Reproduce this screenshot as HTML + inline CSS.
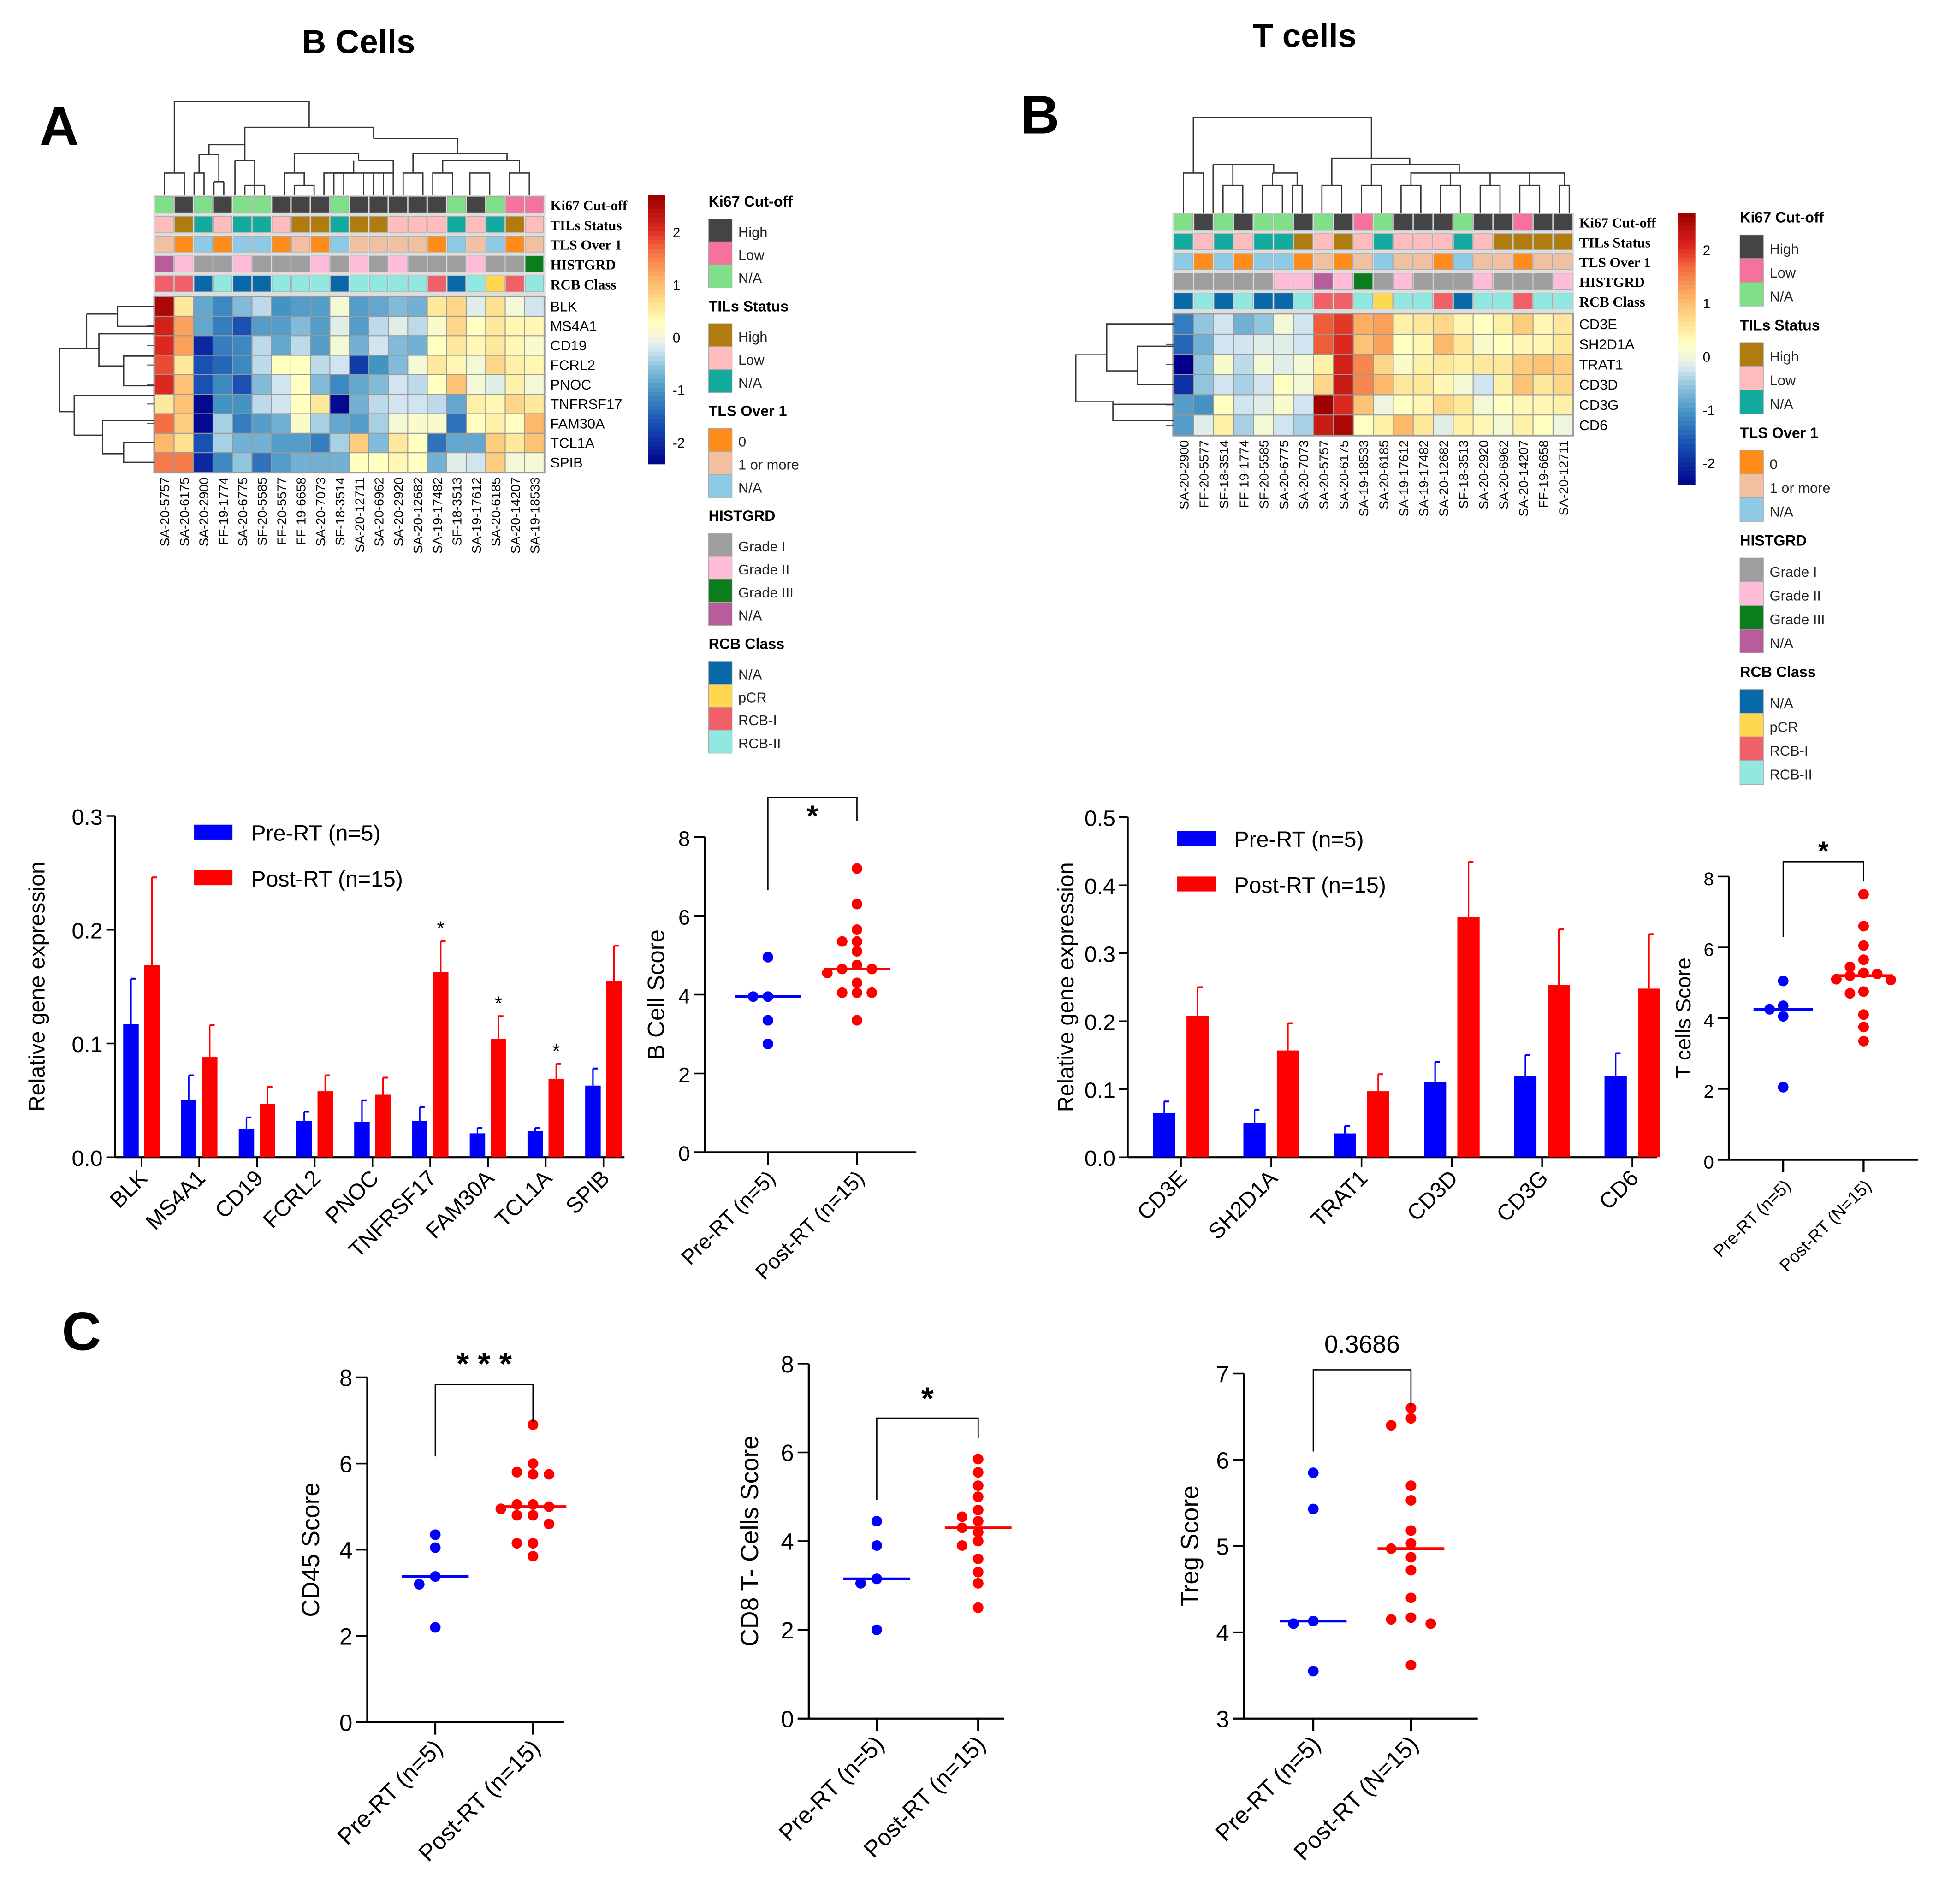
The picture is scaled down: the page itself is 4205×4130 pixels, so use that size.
<!DOCTYPE html>
<html><head><meta charset="utf-8"><style>
html,body{margin:0;padding:0;background:#fff}
svg{display:block}
text{font-family:"Liberation Sans",Arial,sans-serif}
.ser{font-family:"Liberation Serif",serif;font-weight:bold}
</style></head><body>
<svg id="fig" xmlns="http://www.w3.org/2000/svg" width="4205" height="4130" viewBox="0 0 1568 1540" preserveAspectRatio="none">
<rect width="1568" height="1540" fill="#fff"/>
<text x="290" y="43" font-size="27" font-weight="bold" text-anchor="middle">B Cells</text>
<text x="1055" y="38" font-size="27" font-weight="bold" text-anchor="middle">T cells</text>
<text x="32" y="117" font-size="44" font-weight="bold">A</text>
<text x="825" y="108" font-size="44" font-weight="bold">B</text>
<text x="50" y="1092" font-size="44" font-weight="bold">C</text>
<g id="root"></g>
</svg>
<script>
// ===== heatmap data =====
const hmASamples=["SA-20-5757","SA-20-6175","SA-20-2900","FF-19-1774","SA-20-6775","SF-20-5585","FF-20-5577","FF-19-6658","SA-20-7073","SF-18-3514","SA-20-12711","SA-20-6962","SA-20-2920","SA-20-12682","SA-19-17482","SF-18-3513","SA-19-17612","SA-20-6185","SA-20-14207","SA-19-18533"];
const hmAGenes=["BLK","MS4A1","CD19","FCRL2","PNOC","TNFRSF17","FAM30A","TCL1A","SPIB"];
const hmAValues=[
[2.6,0.6,-0.8,-1.1,-0.6,-0.3,-1.0,-0.9,-0.9,0.1,-0.9,-0.8,-0.6,-0.7,0.6,0.8,-0.1,0.7,0.1,-0.2],
[2.2,1.3,-0.8,-1.2,-1.6,-0.9,-0.9,-0.6,-0.9,-0.1,-0.9,-0.3,-0.1,-0.3,0.2,0.8,0.3,0.6,0.4,0.4],
[2.1,1.3,-2.0,-1.2,-1.1,-0.3,-0.8,-0.3,-0.9,0.1,-0.7,-0.2,-0.6,-0.7,0.3,0.6,0.4,0.6,0.4,0.2],
[1.9,0.6,-1.6,-1.4,-1.1,-0.3,0.3,0.3,-0.3,-0.2,-1.8,-1.0,-0.6,0.1,0.6,0.4,0.1,0.8,0.5,0.4],
[2.1,1.0,-1.6,-1.1,-1.6,-0.6,-0.2,0.3,-0.6,-1.1,-0.8,-0.6,-0.2,-0.3,0.3,1.0,0.1,-0.1,0.5,0.1],
[0.6,1.0,-2.3,-1.0,-1.0,-0.3,-0.2,0.3,0.6,-2.3,-0.7,-0.3,-0.2,-0.2,-0.3,-0.8,0.5,0.4,0.8,0.6],
[1.7,0.9,-2.3,-0.4,-1.2,-0.9,-0.7,0.2,-0.4,-0.8,-0.9,-0.4,0.1,0.2,0.2,-1.3,0.3,0.5,0.3,1.1],
[1.1,0.7,-1.6,-0.4,-0.7,-0.7,-0.9,-0.9,-1.2,-0.4,0.9,-0.6,0.6,0.3,-1.3,-0.8,-0.8,0.9,0.6,1.0],
[1.6,1.6,-2.0,-1.1,-0.5,-1.3,-0.9,-0.7,-0.7,-0.7,0.3,0.3,0.4,0.3,-0.7,-0.1,-0.2,0.9,0.1,0.1]];
const hmAKi67=["N","H","N","H","N","N","H","H","H","N","H","H","H","H","H","N","H","N","L","L"];
const hmATils=["L","H","N","L","N","N","L","H","H","N","H","H","L","L","L","N","L","N","H","L"];
const hmATls=["1","0","N","0","N","N","0","1","0","N","1","1","1","1","0","N","1","N","0","1"];
const hmAHist=["N","II","I","I","II","I","I","I","II","I","II","I","II","I","I","I","II","I","I","III"];
const hmARcb=["I","I","N","II","N","N","II","II","II","N","II","II","II","II","I","N","II","p","I","II"];

const hmBSamples=["SA-20-2900","FF-20-5577","SF-18-3514","FF-19-1774","SF-20-5585","SA-20-6775","SA-20-7073","SA-20-5757","SA-20-6175","SA-19-18533","SA-20-6185","SA-19-17612","SA-19-17482","SA-20-12682","SF-18-3513","SA-20-2920","SA-20-6962","SA-20-14207","FF-19-6658","SA-20-12711"];
const hmBGenes=["CD3E","SH2D1A","TRAT1","CD3D","CD3G","CD6"];
const hmBValues=[
[-1.2,-0.5,-0.2,-0.7,-0.5,0.1,-0.2,1.8,2.0,1.2,1.3,0.5,0.6,0.8,0.4,0.3,0.5,0.9,0.4,0.6],
[-1.4,-0.7,-0.2,-0.2,-0.1,-0.1,-0.2,1.8,2.1,1.0,1.3,0.3,0.4,1.1,0.6,0.2,0.3,0.4,0.4,0.6],
[-2.4,-0.5,0.2,-0.3,0.1,-0.1,0.1,0.5,2.2,1.5,0.8,0.2,0.5,0.6,0.5,0.6,0.6,0.9,1.0,0.9],
[-1.9,-0.5,-0.2,-0.4,-0.2,0.3,0.1,0.8,2.3,1.5,1.1,0.6,0.6,0.4,0.1,-0.2,0.5,1.0,0.6,0.8],
[-0.9,-1.0,0.3,-0.2,-0.1,0.2,-0.2,2.7,2.1,1.0,0.0,0.3,0.4,0.8,0.6,0.1,0.3,0.4,0.4,0.5],
[-0.9,-0.1,0.5,-0.4,0.1,-0.2,-0.4,2.3,2.6,0.3,0.5,1.1,0.6,-0.1,0.5,0.4,0.1,0.5,0.3,0.0]];
const hmBKi67=["N","H","N","H","N","N","H","N","H","L","N","H","H","H","N","H","H","L","H","H"];
const hmBTils=["N","L","N","L","N","N","H","L","H","L","N","L","L","L","N","L","H","H","H","H"];
const hmBTls=["N","0","N","0","N","N","0","1","0","1","N","1","1","0","N","1","1","0","1","1"];
const hmBHist=["I","I","I","I","I","II","II","N","II","III","I","II","I","I","I","II","I","I","I","II"];
const hmBRcb=["N","II","N","II","N","N","II","I","I","II","p","II","II","I","N","II","II","I","II","II"];

// ===== bar chart data =====
const barAGenes=["BLK","MS4A1","CD19","FCRL2","PNOC","TNFRSF17","FAM30A","TCL1A","SPIB"];
const barAPre=[0.117,0.050,0.025,0.032,0.031,0.032,0.021,0.023,0.063];
const barAPreErr=[0.040,0.022,0.010,0.008,0.019,0.012,0.005,0.003,0.015];
const barAPost=[0.169,0.088,0.047,0.058,0.055,0.163,0.104,0.069,0.155];
const barAPostErr=[0.077,0.028,0.015,0.014,0.015,0.027,0.020,0.013,0.031];
const barAStars=[0,0,0,0,0,1,1,1,0];
const barBGenes=["CD3E","SH2D1A","TRAT1","CD3D","CD3G","CD6"];
const barBPre=[0.065,0.050,0.035,0.110,0.120,0.120];
const barBPreErr=[0.017,0.020,0.011,0.030,0.030,0.033];
const barBPost=[0.208,0.157,0.097,0.353,0.253,0.248];
const barBPostErr=[0.042,0.040,0.025,0.081,0.082,0.080];

// ===== dot plot data =====
const bScorePre=[4.95,3.95,3.95,3.35,2.75];
const bScorePost=[7.2,6.3,5.65,5.35,5.35,5.1,4.75,4.65,4.65,4.55,4.3,4.05,4.05,4.05,3.35];
const tScorePre=[5.05,4.35,4.25,4.05,2.05];
const tScorePost=[7.5,6.6,6.05,5.65,5.45,5.28,5.25,5.2,5.1,5.08,4.75,4.7,4.1,3.75,3.35];
const cd45Pre=[4.35,4.05,3.38,3.2,2.2];
const cd45Post=[6.9,6.0,5.8,5.75,5.75,5.05,5.05,5.0,4.95,4.8,4.8,4.6,4.15,4.15,3.85];
const cd8Pre=[4.45,3.9,3.15,3.05,2.0];
const cd8Post=[5.85,5.55,5.25,5.0,4.7,4.55,4.45,4.3,4.2,4.0,3.9,3.6,3.3,3.05,2.5];
const tregPre=[5.85,5.43,4.13,4.1,3.55];
const tregPost=[6.6,6.48,6.4,5.7,5.53,5.18,5.03,4.97,4.87,4.72,4.4,4.17,4.15,4.1,3.62];
const scoreTicks=["0","2","4","6","8"];
const tregTicks=["3","4","5","6","7"];

const NS="http://www.w3.org/2000/svg";
const root=document.getElementById('root');
function el(tag,attrs,parent,txt){const e=document.createElementNS(NS,tag);for(const k in attrs)e.setAttribute(k,attrs[k]);if(txt!==undefined)e.textContent=txt;(parent||root).appendChild(e);return e;}

const cKi={H:"#444444",L:"#f5729c",N:"#80e08a"};
const cTil={H:"#b07c10",L:"#ffbcbc",N:"#12ab9e"};
const cTls={"0":"#ff8c1a","1":"#f0c0a0",N:"#8ecae6"};
const cHist={I:"#9e9e9e",II:"#ffbcd8",III:"#0b7d1c",N:"#b85c9c"};
const cRcb={N:"#0868a8",p:"#ffd850",I:"#f06068",II:"#90e8e0"};
const stops=[[-2.4,[0,0,139]],[-1.6,[24,80,180]],[-1,[67,147,195]],[-0.5,[146,197,222]],[-0.2,[209,229,240]],[0,[238,246,224]],[0.3,[255,255,191]],[0.7,[254,224,144]],[1.2,[253,174,97]],[1.7,[244,109,67]],[2.1,[220,40,30]],[2.7,[160,0,0]]];
function hcol(v){if(v<=stops[0][0])return `rgb(${stops[0][1]})`;for(let i=1;i<stops.length;i++){if(v<=stops[i][0]){const a=stops[i-1],b=stops[i],t=(v-a[0])/(b[0]-a[0]);return `rgb(${a[1].map((c,j)=>Math.round(c+(b[1][j]-c)*t)).join(',')})`;}}return `rgb(${stops[stops.length-1][1]})`;}

function heatmap(cfg){
  const g=el('g',{});
  
  
  const n=cfg.samples.length, cw=(cfg.x1-cfg.x0)/n;
  const annos=[[cfg.ki,cKi,"Ki67 Cut-off"],[cfg.til,cTil,"TILs Status"],[cfg.tls,cTls,"TLS Over 1"],[cfg.hist,cHist,"HISTGRD"],[cfg.rcb,cRcb,"RCB Class"]];
  el('rect',{x:cfg.x0-1,y:cfg.annY-1,width:cfg.x1-cfg.x0+2,height:5*cfg.annStep+1,fill:"#ddd"},g);
  annos.forEach((a,r)=>{
    const y=cfg.annY+r*cfg.annStep;
    a[0].forEach((v,i)=>{const c=el('rect',{x:cfg.x0+i*cw+0.5,y:y,width:cw-1,height:cfg.annStep-3,fill:a[1][v],stroke:"#aaa","stroke-width":0.4},g);
      
      });
    const t=el('text',{x:cfg.x1+5,y:y+cfg.annStep-5,"font-size":11.5,class:"ser"},g,a[2]);
    
    
  });
  const rh=(cfg.y1-cfg.y0)/cfg.genes.length;
  el('rect',{x:cfg.x0-1,y:cfg.y0-1,width:cfg.x1-cfg.x0+2,height:cfg.y1-cfg.y0+2,fill:"#999"},g);
  cfg.values.forEach((row,r)=>{
    row.forEach((v,i)=>{const c=el('rect',{x:cfg.x0+i*cw+0.4,y:cfg.y0+r*rh+0.4,width:cw-0.8,height:rh-0.8,fill:hcol(v)},g);
      
      });
    const t=el('text',{x:cfg.x1+5,y:cfg.y0+r*rh+rh/2+4,"font-size":11.5},g,cfg.genes[r]);
    
    
    el('line',{x1:cfg.x0-6,x2:cfg.x0,y1:cfg.y0+r*rh+rh/2,y2:cfg.y0+r*rh+rh/2,stroke:"#555","stroke-width":0.8},g);
  });
  cfg.samples.forEach((s,i)=>{
    const x=cfg.x0+i*cw+cw/2+4;
    const t=el('text',{x:x,y:cfg.y1+4,"font-size":10.5,"text-anchor":"end",transform:`rotate(-90 ${x} ${cfg.y1+4})`},g,s);
    
    
  });
  const cb=cfg.cb;
  for(let k=0;k<60;k++){const v=2.7-k*(5.1/60);el('rect',{x:cb.x,y:cb.y0+k*(cb.y1-cb.y0)/60,width:14,height:(cb.y1-cb.y0)/60+0.6,fill:hcol(v)},g);}
  [2,1,0,-1,-2].forEach(v=>{const y=cb.y0+(2.7-v)/5.1*(cb.y1-cb.y0);const t=el('text',{x:cb.x+20,y:y+4,"font-size":11},g,String(v));
    
    });
  const groups=[["Ki67 Cut-off",[["High",cKi.H],["Low",cKi.L],["N/A",cKi.N]]],["TILs Status",[["High",cTil.H],["Low",cTil.L],["N/A",cTil.N]]],["TLS Over 1",[["0",cTls["0"]],["1 or more",cTls["1"]],["N/A",cTls.N]]],["HISTGRD",[["Grade I",cHist.I],["Grade II",cHist.II],["Grade III",cHist.III],["N/A",cHist.N]]],["RCB Class",[["N/A",cRcb.N],["pCR",cRcb.p],["RCB-I",cRcb.I],["RCB-II",cRcb.II]]]];
  let y=cfg.legY;
  groups.forEach(gr=>{
    const t=el('text',{x:cfg.legX,y:y,"font-size":12,"font-weight":"bold"},g,gr[0]);
    
    
    y+=10;
    gr[1].forEach(it=>{el('rect',{x:cfg.legX,y:y,width:19,height:cfg.legStep,fill:it[1],stroke:"#aaa","stroke-width":0.5},g);
      const tt=el('text',{x:cfg.legX+24,y:y+cfg.legStep-4,"font-size":11.5,fill:"#222"},g,it[0]);
      
      
      y+=cfg.legStep;});
    y+=cfg.legGap;
  });
  cfg.dend.forEach(d=>el('path',{d:d,fill:"none",stroke:"#333","stroke-width":1},g));
}
heatmap({name:"heatmap-b-cells",samples:hmASamples,genes:hmAGenes,values:hmAValues,ki:hmAKi67,til:hmATils,tls:hmATls,hist:hmAHist,rcb:hmARcb,
  x0:125,x1:440,annY:159,annStep:16,y0:240,y1:382,cb:{x:524,y0:158,y1:375},legX:573,legY:167,legStep:18.6,legGap:19,
  dend:[
   "M133 158 V140 H149 V158","M141 140 V82 H250 V103","M157 158 V140 H165 V158","M161 140 V125 H177 V147","M173 147 V158 M181 147 V158 M173 147 H181",
   "M169 125 V117 H198 V130","M190 130 H206 V150","M190 130 V158","M198 150 H214 V158 M198 150 V158","M206 150 V158",
   "M198 117 V103 H302 V112","M230 158 V140 H246 V150 M238 150 H254 V158 M238 150 V158",
   "M238 140 V124 H290 V130","M262 158 V140 H286 V130 M290 130 V130 H318 V140","M270 140 V158 M278 140 V158 M294 140 V158 M302 140 V158 M310 140 V158 M318 140 V158",
   "M270 140 H318","M302 112 V112 H370 V124","M326 158 V140 H342 V158 M334 140 V124 H410 V130 M350 158 V140 H366 V158 M358 140 V130 H420 V140 M380 158 V140 H396 V158 M412 158 V140 H428 V158",
   "M48 333 V282 H70 V254 M70 254 H95 V248 H125 M95 254 V264 H125 M70 282 H80 V270 H125 M80 282 V296 H100 V288 H125 M100 296 V312 H125 M48 333 H60 V352 M60 352 H83 V340 H125 M83 352 V367 H100 V358 H125 M100 367 V374 H125 M60 333 V320 H125"
  ]});
heatmap({name:"heatmap-t-cells",samples:hmBSamples,genes:hmBGenes,values:hmBValues,ki:hmBKi67,til:hmBTils,tls:hmBTls,hist:hmBHist,rcb:hmBRcb,
  x0:949,x1:1272,annY:173,annStep:16,y0:254,y1:352,cb:{x:1357,y0:172,y1:392},legX:1407,legY:180,legStep:19.2,legGap:19.5,
  dend:[
   "M957 172 V140 H973 V172","M965 140 V95 H1109 V128","M989 172 V150 H1005 V172","M997 150 V133 H1030 V140","M1021 172 V150 H1037 V172 M1029 150 V140 M1045 172 V150 H1053 V172 M1049 150 V140 H1029",
   "M981 172 V133 M981 133 H997","M1069 172 V150 H1085 V172 M1077 150 V128 H1140 V133","M1101 172 V150 H1117 V172 M1109 150 V133 H1180 V140",
   "M1133 172 V150 H1149 V172 M1141 150 V140 H1220 M1165 172 V150 H1181 V172 M1173 150 V140 M1197 172 V150 H1213 V172 M1205 150 V140 M1229 172 V150 H1245 V172 M1237 150 V140 M1261 172 V150 H1269 V172 M1265 150 V140 H1220",
   "M870 325 V287 H895 V262 H949 M895 287 V300 H920 V280 H949 M920 300 V311 H949 M870 325 H900 V340 H949 M900 325 V327 H949"
  ]});

function barChart(cfg){
  const g=el('g',{});
  
  
  const y=v=>cfg.yb-(v/cfg.ymax)*(cfg.yb-cfg.yt);
  const xc=i=>cfg.x0+cfg.first+i*cfg.step;
  el('line',{x1:cfg.x0,x2:cfg.x0,y1:cfg.yt,y2:cfg.yb,stroke:"#000","stroke-width":1.5},g);
  el('line',{x1:cfg.x0,x2:cfg.xend,y1:cfg.yb,y2:cfg.yb,stroke:"#000","stroke-width":1.5},g);
  cfg.ticks.forEach(t=>{const yy=y(t);el('line',{x1:cfg.x0-7,x2:cfg.x0,y1:yy,y2:yy,stroke:"#000","stroke-width":1.3},g);
    const tx=el('text',{x:cfg.x0-10,y:yy+7,"font-size":18,"text-anchor":"end"},g,t.toFixed(1));
    
    });
  cfg.genes.forEach((gn,i)=>{
    const c=xc(i);
    el('line',{x1:c,x2:c,y1:cfg.yb,y2:cfg.yb+8,stroke:"#000","stroke-width":1.3},g);
    [[cfg.pre,cfg.preErr,"#0000ff",-cfg.off],[cfg.post,cfg.postErr,"#ff0000",cfg.off]].forEach(s=>{
      const bx=c+s[3]-cfg.bw/2,top=y(s[0][i]),et=y(s[0][i]+s[1][i]);
      el('line',{x1:c+s[3],x2:c+s[3],y1:top,y2:et,stroke:s[2],"stroke-width":1.2},g);
      el('line',{x1:c+s[3],x2:c+s[3]+4,y1:et,y2:et,stroke:s[2],"stroke-width":1.5},g);
      const b=el('rect',{x:bx,y:top,width:cfg.bw,height:cfg.yb-top,fill:s[2]},g);
      
      
    });
    if(cfg.stars&&cfg.stars[i]){const st=el('text',{x:c+cfg.off,y:y(cfg.post[i]+cfg.postErr[i])-5,"font-size":16,"text-anchor":"middle"},g,"*");
      
      }
    const lx=c+6,ly=cfg.yb+18;
    const t=el('text',{x:lx,y:ly,"font-size":18,"text-anchor":"end",transform:`rotate(-45 ${lx} ${ly})`},g,gn);
    
    
  });
  const yl=el('text',{x:cfg.ylx,y:(cfg.yt+cfg.yb)/2,"font-size":18,"text-anchor":"middle",transform:`rotate(-90 ${cfg.ylx} ${(cfg.yt+cfg.yb)/2})`},g,"Relative gene expression");
  
  
  [["Pre-RT (n=5)","#0000ff",cfg.legY],["Post-RT (n=15)","#ff0000",cfg.legY+37]].forEach(l=>{
    el('rect',{x:cfg.legX,y:l[2]-12,width:31,height:12,fill:l[1]},g);
    const t=el('text',{x:cfg.legX+46,y:l[2]+1,"font-size":18},g,l[0]);
    
    
  });
}
barChart({name:"bar-chart-b-genes",genes:barAGenes,pre:barAPre,preErr:barAPreErr,post:barAPost,postErr:barAPostErr,stars:barAStars,
  x0:93,xend:505,yt:660,yb:936,ymax:0.3,ticks:[0,0.1,0.2,0.3],first:21.4,step:46.7,off:8.5,bw:12.5,ylx:36,legX:157,legY:679});
barChart({name:"bar-chart-t-genes",genes:barBGenes,pre:barBPre,preErr:barBPreErr,post:barBPost,postErr:barBPostErr,stars:null,
  x0:912,xend:1340,yt:661,yb:936,ymax:0.5,ticks:[0,0.1,0.2,0.3,0.4,0.5],first:43,step:73,off:13.5,bw:18,ylx:868,legX:952,legY:684});

function dotPlot(cfg){
  const g=el('g',{});
  
  
  const lo=+cfg.ticks[0],hi=+cfg.ticks[cfg.ticks.length-1];
  const y=v=>cfg.yb-(v-lo)/(hi-lo)*(cfg.yb-cfg.yt);
  el('line',{x1:cfg.x0,x2:cfg.x0,y1:cfg.yt,y2:cfg.yb,stroke:"#000","stroke-width":1.6},g);
  el('line',{x1:cfg.x0-9,x2:cfg.xend,y1:cfg.yb,y2:cfg.yb,stroke:"#000","stroke-width":1.6},g);
  cfg.ticks.forEach(t=>{const yy=y(+t);el('line',{x1:cfg.x0-9,x2:cfg.x0,y1:yy,y2:yy,stroke:"#000","stroke-width":1.3},g);
    const tx=el('text',{x:cfg.x0-12,y:yy+7,"font-size":cfg.fs,"text-anchor":"end"},g,t);
    
    });
  const groups=[[cfg.pre,"#0000ff",cfg.g1,cfg.lab1],[cfg.post,"#ff0000",cfg.g2,cfg.lab2]];
  groups.forEach(gr=>{
    const c=gr[2];
    el('line',{x1:c,x2:c,y1:cfg.yb,y2:cfg.yb+10,stroke:"#000","stroke-width":1.6},g);
    const vals=gr[0].slice().sort((a,b)=>b-a);
    const med=vals[Math.floor(vals.length/2)];
    const placed=[];
    const slots=[0,-1,1,-2,2,-3,3];
    vals.forEach(v=>{
      const yy=y(v);let dx=0;
      for(const s of slots){const xx=c+s*cfg.sp;if(!placed.some(p=>Math.abs(p[1]-yy)<7&&Math.abs(p[0]-xx)<8)){dx=s*cfg.sp;break;}}
      placed.push([c+dx,yy]);
      const d=el('circle',{cx:c+dx,cy:yy,r:4.3,fill:gr[1]},g);
      
      
    });
    const m=el('line',{x1:c-cfg.mw,x2:c+cfg.mw,y1:y(med),y2:y(med),stroke:gr[1],"stroke-width":2.2},g);
    
    
    const lx=c+7,ly=cfg.yb+22;
    const t=el('text',{x:lx,y:ly,"font-size":cfg.lfs,"text-anchor":"end",transform:`rotate(-45 ${lx} ${ly})`},g,gr[3]);
    
    
  });
  el('path',{d:`M${cfg.g1} ${cfg.bl1} V${cfg.by} H${cfg.g2} V${cfg.bl2}`,fill:"none",stroke:"#000","stroke-width":1},g);
  const s=el('text',{x:(cfg.g1+cfg.g2)/2,y:cfg.sy,"font-size":cfg.sfs,"text-anchor":"middle","font-weight":cfg.sig==="0.3686"?"normal":"bold"},g,cfg.sig);
  
  
  const cy=(cfg.yt+cfg.yb)/2;
  const yl=el('text',{x:cfg.ylx,y:cy,"font-size":cfg.yfs||cfg.fs,"text-anchor":"middle",transform:`rotate(-90 ${cfg.ylx} ${cy})`},g,cfg.ylab);
  
  
}
dotPlot({name:"b-cell-score-plot",pre:bScorePre,post:bScorePost,ticks:scoreTicks,x0:570,xend:741,yt:677,yb:932,g1:621,g2:693,sp:12,mw:27,
  ylab:"B Cell Score",ylx:537,yfs:19,lab1:"Pre-RT (n=5)",lab2:"Post-RT (n=15)",by:645,bl1:720,bl2:664,sig:"*",sy:668,sfs:24,fs:17,lfs:17});
dotPlot({name:"t-cells-score-plot",pre:tScorePre,post:tScorePost,ticks:scoreTicks,x0:1398,xend:1551,yt:709,yb:938,g1:1442,g2:1507,sp:11,mw:24,
  ylab:"T cells Score",ylx:1367,yfs:17,lab1:"Pre-RT (n=5)",lab2:"Post-RT (N=15)",by:697,bl1:758,bl2:713,sig:"*",sy:696,sfs:22,fs:15,lfs:14});
dotPlot({name:"cd45-score-plot",pre:cd45Pre,post:cd45Post,ticks:scoreTicks,x0:297,xend:456,yt:1114,yb:1393,g1:352,g2:431,sp:13,mw:27,
  ylab:"CD45 Score",ylx:258,yfs:20,lab1:"Pre-RT (n=5)",lab2:"Post-RT (n=15)",by:1120,bl1:1178,bl2:1150,sig:"* * *",sy:1112,sfs:26,fs:19,lfs:19});
dotPlot({name:"cd8-score-plot",pre:cd8Pre,post:cd8Post,ticks:scoreTicks,x0:654,xend:812,yt:1103,yb:1390,g1:709,g2:791,sp:13,mw:27,
  ylab:"CD8 T- Cells Score",ylx:613,yfs:20,lab1:"Pre-RT (n=5)",lab2:"Post-RT (n=15)",by:1147,bl1:1213,bl2:1163,sig:"*",sy:1140,sfs:26,fs:19,lfs:19});
dotPlot({name:"treg-score-plot",pre:tregPre,post:tregPost,ticks:tregTicks,x0:1006,xend:1195,yt:1111,yb:1390,g1:1062,g2:1141,sp:16,mw:27,
  ylab:"Treg Score",ylx:969,yfs:20,lab1:"Pre-RT (n=5)",lab2:"Post-RT (N=15)",by:1108,bl1:1174,bl2:1138,sig:"0.3686",sy:1094,sfs:20,fs:19,lfs:19});
</script>
</body></html>
